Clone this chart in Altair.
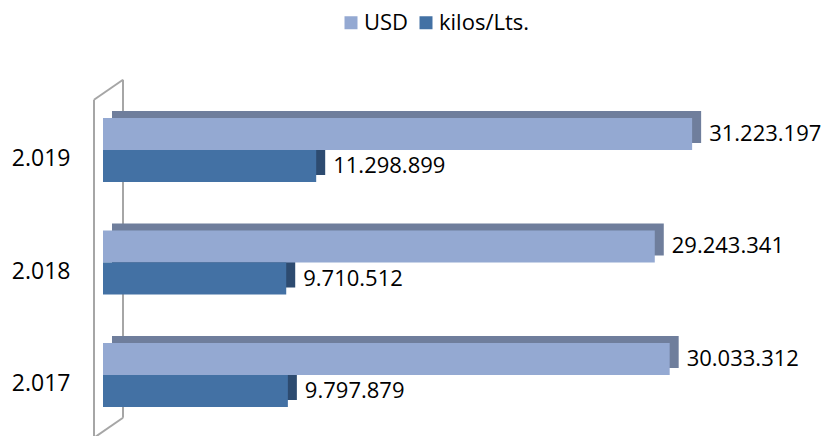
import altair as alt
import pandas as pd

years = ["2.019", "2.018", "2.017"]
series = ["USD", "kilos/Lts."]
usd = [31223197, 29243341, 30033312]
kilos = [11298899, 9710512, 9797879]

front_colors = ["#94A9D2", "#4371A4"]
back_usd = "#6F7E9C"
back_kilos = "#2D4B70"

rows = []
for y, u, k in zip(years, usd, kilos):
    rows.append({"year": y, "series": "USD", "value": u, "label": f"{u:,}".replace(",", ".")})
    rows.append({"year": y, "series": "kilos/Lts.", "value": k, "label": f"{k:,}".replace(",", ".")})
df = pd.DataFrame(rows)

W = 717
H = 337.5
DMAX = 38_000_000
FONT = "Open Sans"
pi, po = 0.431, 0.2155
DX, DY = 9, 7

base = alt.Chart(df)

y_front = alt.Y("year:N", sort=years, title=None,
                scale=alt.Scale(paddingInner=pi, paddingOuter=po),
                axis=alt.Axis(ticks=False, domain=False, labelPadding=33, labelFontSize=23,
                              labelFont=FONT, labelColor="black", labelOffset=9))
yoff = alt.YOffset("series:N", sort=series, scale=alt.Scale(paddingInner=0, paddingOuter=0))

back = base.mark_bar().encode(
    x=alt.X("value:Q", scale=alt.Scale(domain=[0, DMAX], range=[DX, W + DX]), axis=None),
    y=alt.Y("year:N", sort=years, scale=alt.Scale(paddingInner=pi, paddingOuter=po, range=[-DY, H - DY]), axis=None),
    yOffset=yoff,
    color=alt.condition(alt.datum.series == "USD", alt.value(back_usd), alt.value(back_kilos)),
)

front = base.mark_bar().encode(
    x=alt.X("value:Q", scale=alt.Scale(domain=[0, DMAX]), axis=None),
    y=y_front,
    yOffset=yoff,
    color=alt.Color("series:N", sort=series,
                    scale=alt.Scale(domain=series, range=front_colors),
                    legend=alt.Legend(title=None, orient="none", direction="horizontal",
                                      legendX=237, legendY=-82, symbolType="square",
                                      symbolSize=169, symbolStrokeWidth=0, labelFontSize=22,
                                      labelFont=FONT, labelColor="black", labelOffset=2,
                                      columnPadding=6)),
)

text = base.mark_text(align="left", baseline="middle", dx=17, fontSize=22, font=FONT, color="black").encode(
    x=alt.X("value:Q", scale=alt.Scale(domain=[0, DMAX]), axis=None),
    y=alt.Y("year:N", sort=years, scale=alt.Scale(paddingInner=pi, paddingOuter=po), axis=None),
    yOffset=yoff,
    text="label:N",
)

one = alt.Data(values=[{}])
wall_color = "#A6A6A6"
wall = [
    alt.Chart(one).mark_rule(color=wall_color, strokeWidth=2).encode(
        x=alt.value(-9), y=alt.value(6), y2=alt.value(344)),
    alt.Chart(one).mark_rule(color=wall_color, strokeWidth=2).encode(
        x=alt.value(20), y=alt.value(-14), y2=alt.value(324)),
    alt.Chart(one).mark_rule(color=wall_color, strokeWidth=2).encode(
        x=alt.value(-9), x2=alt.value(20), y=alt.value(6), y2=alt.value(-14)),
    alt.Chart(one).mark_rule(color=wall_color, strokeWidth=2).encode(
        x=alt.value(-9), x2=alt.value(20), y=alt.value(344), y2=alt.value(324)),
]

chart = alt.layer(*wall, back, front, text).resolve_scale(
    x="independent", y="independent", color="independent"
).properties(
    width=W, height=H,
    autosize=alt.AutoSizeParams(type="none"),
    padding={"left": 95, "top": 85.75, "right": 3, "bottom": 5},
).configure_view(stroke=None)

chart.save("out.html", embed_options={"renderer": "svg", "actions": False})
